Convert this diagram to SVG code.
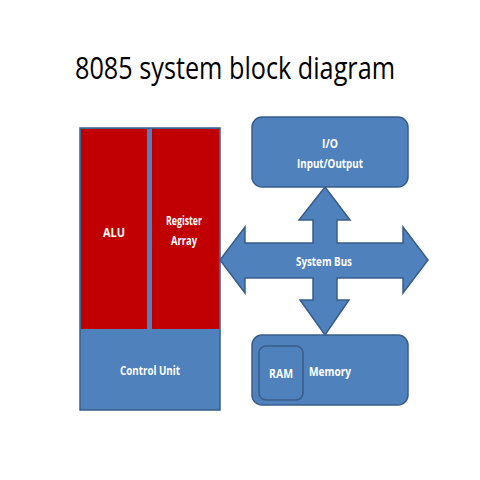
<svg xmlns="http://www.w3.org/2000/svg" width="480" height="480" viewBox="0 0 480 480">
<style>
.blue{fill:#4F81BD;stroke:#385D8A;stroke-width:1.5}
.red{fill:#C00000}
.lbl{font-family:"Open Sans","Liberation Sans",sans-serif;font-weight:bold;fill:#fff;font-size:13px;text-anchor:middle}
</style>
<rect width="480" height="480" fill="#fff"/>
<text x="75" y="79" font-family="Open Sans, Liberation Sans, sans-serif" font-size="31" fill="#000" textLength="320" lengthAdjust="spacingAndGlyphs">8085 system block diagram</text>
<g id="cpu">
<rect class="blue" x="80" y="128" width="140" height="282"/>
</g>
<g id="alu">
<rect class="red" x="81" y="129" width="66" height="200"/>
<text class="lbl" x="114" y="237" textLength="22" lengthAdjust="spacingAndGlyphs">ALU</text>
</g>
<g id="register">
<rect class="red" x="152" y="129" width="67" height="200"/>
<text class="lbl" x="184" y="225" textLength="36" lengthAdjust="spacingAndGlyphs">Register</text>
<text class="lbl" x="184" y="245" textLength="26" lengthAdjust="spacingAndGlyphs">Array</text>
</g>
<g id="control">
<text class="lbl" x="150" y="375" textLength="60" lengthAdjust="spacingAndGlyphs">Control Unit</text>
</g>
<g id="connectors">
<path class="blue" d="M325 187 L350 220 L337 220 L337 243 L403 243 L403 227 L428 260 L403 293 L403 278 L337 278 L337 300 L349 300 L325 335 L300 300 L313 300 L313 278 L245 278 L245 293 L220 260 L245 227 L245 243 L313 243 L313 220 L299 220 Z"/>
<text class="lbl" x="324" y="266" textLength="56" lengthAdjust="spacingAndGlyphs">System Bus</text>
</g>
<g id="io">
<rect class="blue" x="252" y="117" width="156" height="70" rx="10"/>
<text class="lbl" x="330" y="148" textLength="16" lengthAdjust="spacingAndGlyphs">I/O</text>
<text class="lbl" x="330" y="168" textLength="66" lengthAdjust="spacingAndGlyphs">Input/Output</text>
</g>
<g id="memory">
<rect class="blue" x="252" y="335" width="156" height="70" rx="10"/>
<rect class="blue" x="259" y="346" width="44" height="54" rx="7"/>
<text class="lbl" x="281" y="378" textLength="24" lengthAdjust="spacingAndGlyphs">RAM</text>
<text class="lbl" x="330" y="376" textLength="42" lengthAdjust="spacingAndGlyphs">Memory</text>
</g>
</svg>
